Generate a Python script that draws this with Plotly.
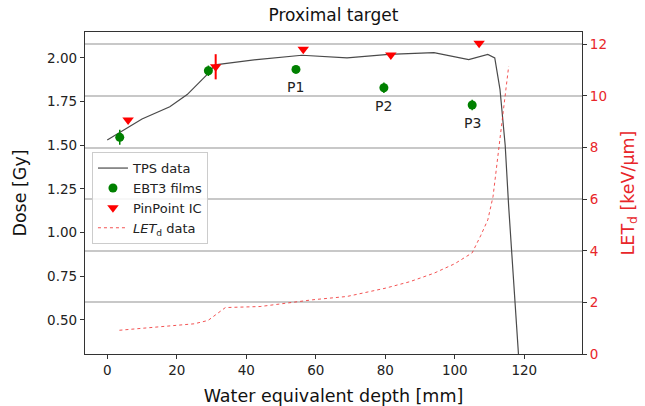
import plotly.graph_objects as go

# ---- data ----
tps_depth = [0, 4, 10, 18, 23, 29, 31, 43, 56, 69, 81, 94, 104, 109.5, 111.5, 113, 114.5, 115.5, 116.5, 117.5, 118.5]
tps_dose = [1.53, 1.58, 1.65, 1.72, 1.79, 1.91, 1.96, 1.99, 2.015, 2.0, 2.02, 2.03, 1.99, 2.02, 2.0, 1.82, 1.50, 1.15, 0.85, 0.50, 0.25]

ebt3_depth = [3.6, 29.1, 54.3, 79.6, 105.0]
ebt3_dose = [1.545, 1.926, 1.934, 1.829, 1.730]
ebt3_err = [0.043, 0.03, 0.02, 0.03, 0.03]
ebt3_labels = ["", "", "P1", "P2", "P3"]

pp_depth = [6.0, 31.2, 56.4, 81.6, 107.0]
pp_dose = [1.644, 1.949, 2.049, 2.016, 2.083]
pp_err = [0.0, 0.072, 0.0, 0.0, 0.0]

let_depth = [3.5, 10, 20, 25, 29, 34, 44, 50, 59, 69, 80, 87, 94, 100, 105, 107.5, 109.5, 111, 113, 115.5]
let_val = [0.92, 1.0, 1.1, 1.17, 1.3, 1.8, 1.84, 1.95, 2.1, 2.23, 2.55, 2.8, 3.13, 3.5, 3.92, 4.6, 5.2, 6.1, 8.3, 11.15]

x_ticks = [0, 20, 40, 60, 80, 100, 120]
y_ticks = [0.5, 0.75, 1.0, 1.25, 1.5, 1.75, 2.0]
y2_ticks = [0, 2, 4, 6, 8, 10, 12]

FONT = "DejaVu Sans"
AX = "#333333"
RED = "#e8262a"

fig = go.Figure()
fig.add_trace(go.Scatter(x=tps_depth, y=tps_dose, mode="lines", name="TPS data",
                         line=dict(color="#4a4a4a", width=1.2)))
fig.add_trace(go.Scatter(x=ebt3_depth, y=ebt3_dose, mode="markers", name="EBT3 films",
                         marker=dict(color="green", size=9, symbol="circle"),
                         error_y=dict(type="data", array=ebt3_err, width=0, thickness=1.5, color="green")))
fig.add_trace(go.Scatter(x=pp_depth, y=pp_dose, mode="markers", name="PinPoint IC",
                         marker=dict(color="red", size=10, symbol="triangle-down"),
                         error_y=dict(type="data", array=pp_err, width=0, thickness=2, color="red")))
fig.add_trace(go.Scatter(x=let_depth, y=let_val, mode="lines", name="<i>LET</i><sub>d</sub> data",
                         yaxis="y2", line=dict(color="rgba(240,40,40,0.8)", width=1, dash="dot")))

for xd, yd, lab in zip(ebt3_depth, ebt3_dose, ebt3_labels):
    if lab:
        fig.add_annotation(x=xd, y=yd, text=lab, showarrow=False, yshift=-18,
                           font=dict(family=FONT, size=14, color="#222"))

fig.update_layout(
    width=645, height=406,
    margin=dict(l=85, r=63, t=32, b=52),
    paper_bgcolor="white", plot_bgcolor="white",
    font=dict(family=FONT, size=13.5, color="#222"),
    title=dict(text="Proximal target", x=0.517, xanchor="center", y=0.963, yanchor="middle",
               font=dict(family=FONT, size=17, color="#111")),
    showlegend=True,
    legend=dict(x=0.014, y=0.627, xanchor="left", yanchor="top",
                bgcolor="rgba(255,255,255,0.85)", bordercolor="#cccccc", borderwidth=1,
                font=dict(family=FONT, size=13, color="#222"), tracegroupgap=0),
    xaxis=dict(range=[-6.4, 136.6], tickvals=x_ticks, ticks="outside", ticklen=4,
               tickcolor=AX, showline=True, linecolor=AX, linewidth=1.3, mirror=True,
               showgrid=False, zeroline=False, automargin=False,
               title=dict(text="Water equivalent depth [mm]", font=dict(size=17.5, color="#111"))),
    yaxis=dict(range=[0.305, 2.148], tickvals=y_ticks, tickformat=".2f", ticks="outside", ticklen=4,
               tickcolor=AX, showline=True, linecolor=AX, linewidth=1.3, mirror=True,
               showgrid=False, zeroline=False, automargin=False,
               title=dict(text="Dose [Gy]", font=dict(size=17.5, color="#111"))),
    yaxis2=dict(range=[0, 12.48], tickvals=y2_ticks, overlaying="y", side="right",
                ticks="outside", ticklen=4, tickcolor=AX, showline=True, linecolor=AX, linewidth=1.3,
                showgrid=True, gridcolor="#c8c8c8", gridwidth=1.5, zeroline=False, automargin=False,
                tickfont=dict(color=RED),
                title=dict(text="LET<sub>d</sub> [keV/μm]", font=dict(size=17.5, color=RED))),
)

fig.write_html("out.html")
